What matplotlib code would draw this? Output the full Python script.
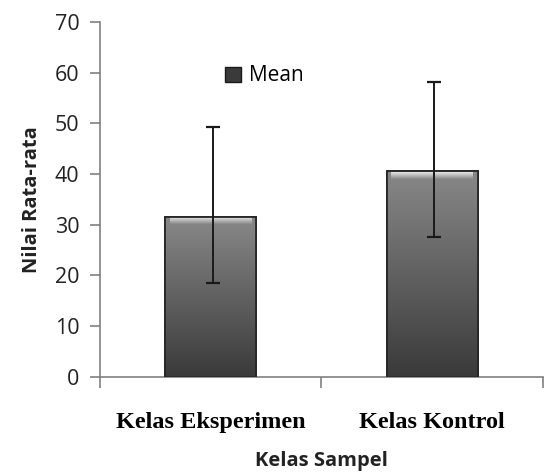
import matplotlib
matplotlib.use("Agg")
import matplotlib.pyplot as plt
import numpy as np
from matplotlib.patches import Patch
from matplotlib.colors import LinearSegmentedColormap

# data
categories = ["Kelas Eksperimen", "Kelas Kontrol"]
means = [31.5, 40.5]
err_low = [13.0, 13.0]
err_high = [17.7, 17.7]

fig = plt.figure(figsize=(5.5, 4.74), dpi=100)
ax = fig.add_axes([0.182, 0.205, 0.805, 0.749])

x = np.arange(len(categories))
bars = ax.bar(x, means, width=0.41, color="#5a5a5a", edgecolor="#262626",
              linewidth=1.3, zorder=2, label="Mean")

# gray vertical gradient inside each bar (top lighter, bottom darker)
bar_cmap = LinearSegmentedColormap.from_list("bar", ["#3a3a3a", "#888888"])
bevel_cmap = LinearSegmentedColormap.from_list("bevel", ["#888888", "#e6e6e6"])
grad = np.linspace(0, 1, 256).reshape(-1, 1)
for b in bars:
    x0, y0 = b.get_x(), b.get_y()
    w, h = b.get_width(), b.get_height()
    im = ax.imshow(grad, cmap=bar_cmap, aspect="auto",
                   extent=(x0, x0 + w, y0, y0 + h), origin="lower",
                   zorder=2.5)
    im.set_clip_path(b)
    # light bevel along the top
    ax.imshow(grad, cmap=bevel_cmap, aspect="auto",
              extent=(x0 + 0.02, x0 + w - 0.02, y0 + h - 1.4, y0 + h - 0.15),
              origin="lower", zorder=2.6)
    ax.bar(x0 + w / 2, h, width=w, fill=False, edgecolor="#262626",
           linewidth=1.3, zorder=2.7)

ax.errorbar(x + 0.01, means, yerr=[err_low, err_high], fmt="none",
            ecolor="#1a1a1a", elinewidth=1.4, capsize=5, capthick=1.6,
            zorder=3)

ax.set_xlim(-0.5, 1.5)
ax.set_ylim(0, 70)
ax.set_yticks(range(0, 71, 10))

for s in ["top", "right"]:
    ax.spines[s].set_visible(False)
for s in ["left", "bottom"]:
    ax.spines[s].set_color("#808080")
    ax.spines[s].set_linewidth(1.2)

ax.tick_params(axis="y", direction="out", length=7, width=1.2,
               color="#808080", pad=8, labelsize=15.5, labelcolor="#222222")
ax.set_xticks([-0.5, 0.5, 1.5])
ax.set_xticklabels([])
ax.tick_params(axis="x", which="major", direction="out", length=8,
               width=1.2, color="#808080")
ax.set_xticks(x, minor=True)
ax.set_xticklabels(categories, minor=True, fontfamily="Liberation Serif",
                   fontweight="bold", fontsize=17.5)
ax.tick_params(axis="x", which="minor", length=0, pad=25)
for lab in ax.get_yticklabels():
    lab.set_fontfamily("Open Sans")

ax.set_ylabel("Nilai Rata-rata", fontfamily="Open Sans", fontweight="bold",
              fontsize=14.5, labelpad=9, color="#222222")
ax.set_xlabel("Kelas Sampel", fontfamily="Open Sans", fontweight="bold",
              fontsize=14.5, labelpad=13, color="#222222")

handle = Patch(facecolor="#3a3a3a", edgecolor="#1a1a1a")
ax.legend([handle], ["Mean"], loc="upper left",
          bbox_to_anchor=(0.24, 0.93), frameon=False, handlelength=0.75,
          handleheight=0.75, handletextpad=0.4,
          prop={"family": "Open Sans", "size": 15})

fig.savefig("out.png", dpi=100)
